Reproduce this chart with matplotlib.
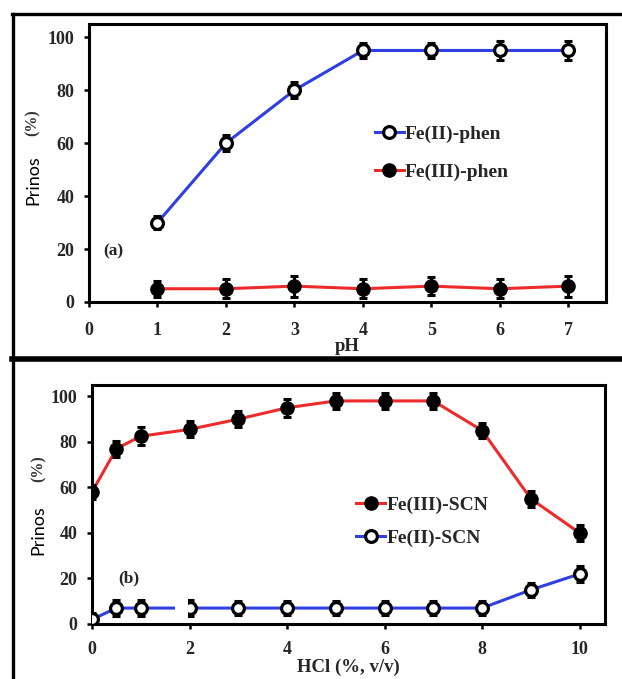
import matplotlib
matplotlib.use("Agg")
import matplotlib.pyplot as plt
from matplotlib.lines import Line2D
from matplotlib.patches import Rectangle

# panel (a): extraction vs pH
ph = [1, 2, 3, 4, 5, 6, 7]
fe2_phen = [30, 60, 80, 95, 95, 95, 95]
fe2_phen_err = [2.5, 3, 3, 3, 3, 3.5, 3.5]
fe3_phen = [5, 5, 6, 5, 6, 5, 6]
fe3_phen_err = [3, 3.5, 4, 3.5, 3.5, 3.5, 4]

# panel (b): extraction vs HCl
hcl = [0, 0.5, 1, 2, 3, 4, 5, 6, 7, 8, 9, 10]
fe3_scn = [58, 77, 82.5, 85.5, 90, 95, 98, 98, 98, 85, 55, 40]
fe3_scn_err = [3, 3.5, 4, 3.5, 3.5, 4, 3.5, 3.5, 3.5, 3.5, 3.5, 3.5]
fe2_scn = [2, 7, 7, 7, 7, 7, 7, 7, 7, 7, 15, 22]
fe2_scn_err = [3, 3.5, 3.5, 3.5, 3, 3, 3, 3, 3, 3, 3, 3.5]

BLUE = "#2f3fe0"
RED = "#ee2b2b"
SERIF = "Liberation Serif"
SANS = "Lato"
TXT = "#262626"

W, H = 622, 679
fig = plt.figure(figsize=(W / 100, H / 100), dpi=100)


def px_axes(left, top, right, bottom):
    return fig.add_axes([left / W, 1 - bottom / H, (right - left) / W, (bottom - top) / H])


def style_axes(ax, xpad):
    for s in ax.spines.values():
        s.set_linewidth(2.2)
    ax.tick_params(direction="out", length=3.5, width=1.8, labelsize=13)
    ax.tick_params(axis="y", pad=7)
    ax.tick_params(axis="x", pad=xpad)
    for lab in ax.get_xticklabels() + ax.get_yticklabels():
        lab.set_fontfamily(SERIF)
        lab.set_fontweight("bold")
        lab.set_color(TXT)


def draw_series(ax, x, y, err, color, filled):
    ax.plot(x, y, "-", color=color, lw=2.2, zorder=2)
    ax.errorbar(x, y, yerr=err, fmt="none", ecolor="black", elinewidth=2.2,
                capsize=3, capthick=2.2, zorder=3)
    if filled:
        ax.plot(x, y, "o", ms=9.5, mfc="black", mec="black", zorder=4)
    else:
        ax.plot(x, y, "o", ms=8.5, mfc="white", mec="black", mew=2.3, zorder=4)


def handle(color, filled):
    if filled:
        return Line2D([], [], color=color, lw=2.2, marker="o", ms=9.5, mfc="black", mec="black")
    return Line2D([], [], color=color, lw=2.2, marker="o", ms=8.5, mfc="white", mec="black", mew=2.3)


# ---- panel (a)
ax1 = px_axes(89, 24, 606, 302)
draw_series(ax1, ph, fe2_phen, fe2_phen_err, BLUE, False)
draw_series(ax1, ph, fe3_phen, fe3_phen_err, RED, True)
ax1.set_xlim(0, 7.55)
ax1.set_ylim(0, 105)
ax1.set_xticks(range(0, 8))
ax1.set_yticks(range(0, 101, 20))
style_axes(ax1, 11)
ax1.set_xlabel("pH", fontfamily=SERIF, fontweight="bold", fontsize=13.5, labelpad=-1, color=TXT)
ax1.text(0.36, 19, "(a)", fontfamily=SERIF, fontweight="bold", fontsize=12.5, va="center", ha="center", color=TXT)
ax1.legend([handle(BLUE, False), handle(RED, True)], ["Fe(II)-phen", "Fe(III)-phen"],
           loc="upper left", bbox_to_anchor=(0.553, 0.635), frameon=False,
           prop={"family": SERIF, "weight": "bold", "size": 14},
           handlelength=1.5, handletextpad=0.05, labelspacing=1.05,
           borderpad=0, borderaxespad=0, labelcolor=TXT)

# ---- panel (b)
ax2 = px_axes(92, 385, 605, 624)
draw_series(ax2, hcl, fe3_scn, fe3_scn_err, RED, True)
draw_series(ax2, hcl, fe2_scn, fe2_scn_err, BLUE, False)
ax2.add_patch(Rectangle((1.70, 2.5), 0.27, 9.5, facecolor="white", edgecolor="none", zorder=5))
ax2.set_xlim(0, 10.52)
ax2.set_ylim(0, 105)
ax2.set_xticks(range(0, 11, 2))
ax2.set_yticks(range(0, 101, 20))
style_axes(ax2, 9)
ax2.set_xlabel("HCl (%, v/v)", fontfamily=SERIF, fontweight="bold", fontsize=13.5, labelpad=0, color=TXT)
ax2.text(0.76, 20, "(b)", fontfamily=SERIF, fontweight="bold", fontsize=12.5, va="center", ha="center", color=TXT)
ax2.legend([handle(RED, True), handle(BLUE, False)], ["Fe(III)-SCN", "Fe(II)-SCN"],
           loc="upper left", bbox_to_anchor=(0.515, 0.535), frameon=False,
           prop={"family": SERIF, "weight": "bold", "size": 14},
           handlelength=1.5, handletextpad=0.05, labelspacing=0.8,
           borderpad=0, borderaxespad=0, labelcolor=TXT)

# y labels: "Prinos" in sans, "(%)" in bold serif
fig.text(33 / W, 1 - 180 / H, "Prinos", rotation=90, fontfamily=SANS, fontsize=13, ha="center", va="center")
fig.text(33 / W, 1 - 123 / H, "(%)", rotation=90, fontfamily=SERIF, fontweight="bold", fontsize=11.5, ha="center", va="center", color="#333333")
fig.text(38 / W, 1 - 530 / H, "Prinos", rotation=90, fontfamily=SANS, fontsize=13, ha="center", va="center")
fig.text(39 / W, 1 - 469 / H, "(%)", rotation=90, fontfamily=SERIF, fontweight="bold", fontsize=11.5, ha="center", va="center", color="#333333")

# outer frame lines of the composite
fig.add_artist(Line2D([12 / W, 1], [1 - 14 / H, 1 - 14 / H], color="black", lw=2.4))
fig.add_artist(Line2D([13 / W, 13 / W], [0, 1 - 14 / H], color="black", lw=2.4))
fig.add_artist(Line2D([12 / W, 1], [1 - 359 / H, 1 - 359 / H], color="black", lw=4))

fig.savefig("out.png", dpi=100)
